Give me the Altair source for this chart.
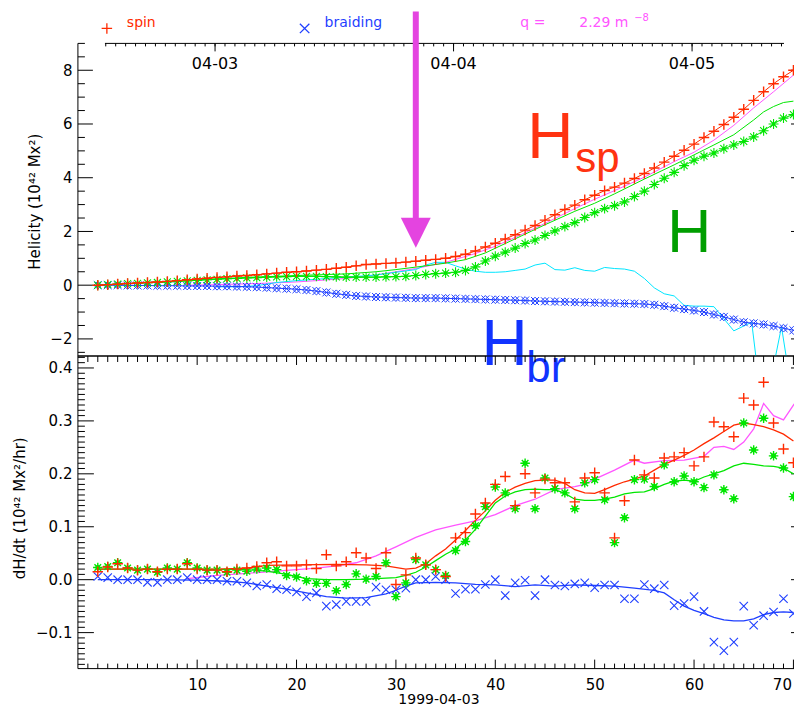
import altair as alt
import pandas as pd
import numpy as np

# ---------------- data ----------------
hours = list(range(71))

# top panel (helicity, 10^42 Mx^2)
top_spin = [0.0, 0.02, 0.04, 0.06, 0.08, 0.1, 0.12, 0.14, 0.17, 0.2,
            0.23, 0.26, 0.29, 0.31, 0.34, 0.36, 0.39, 0.42, 0.45, 0.48,
            0.5, 0.53, 0.56, 0.59, 0.63, 0.67, 0.72, 0.77, 0.79, 0.81,
            0.83, 0.86, 0.89, 0.93, 0.96, 1.0, 1.07, 1.15, 1.27, 1.42,
            1.56, 1.72, 1.88, 2.05, 2.22, 2.42, 2.62, 2.82, 2.98, 3.18,
            3.35, 3.52, 3.65, 3.8, 3.97, 4.16, 4.36, 4.58, 4.8, 5.02,
            5.25, 5.5, 5.73, 5.98, 6.25, 6.55, 6.88, 7.2, 7.5, 7.76, 8.0]
top_total = [0.0, 0.02, 0.04, 0.06, 0.07, 0.09, 0.1, 0.12, 0.14, 0.16,
             0.18, 0.2, 0.22, 0.24, 0.25, 0.27, 0.28, 0.3, 0.31, 0.32,
             0.33, 0.33, 0.33, 0.32, 0.31, 0.3, 0.3, 0.3, 0.3, 0.31,
             0.32, 0.33, 0.36, 0.4, 0.43, 0.45, 0.48, 0.55, 0.68, 0.9,
             1.08, 1.23, 1.38, 1.55, 1.68, 1.85, 2.02, 2.18, 2.33, 2.52,
             2.7, 2.85, 2.96, 3.1, 3.3, 3.5, 3.75, 3.98, 4.2, 4.45,
             4.65, 4.8, 4.92, 5.08, 5.22, 5.35, 5.52, 5.75, 6.0, 6.22, 6.35]
top_braid = [0.0, 0.0, 0.0, -0.01, -0.01, -0.01, -0.02, -0.02, -0.02, -0.03,
             -0.03, -0.03, -0.04, -0.04, -0.05, -0.06, -0.07, -0.09, -0.11, -0.13,
             -0.15, -0.18, -0.22, -0.27, -0.32, -0.36, -0.4, -0.42, -0.44, -0.45,
             -0.46, -0.47, -0.48, -0.48, -0.48, -0.49, -0.5, -0.51, -0.52, -0.53,
             -0.54, -0.55, -0.56, -0.57, -0.59, -0.6, -0.61, -0.62, -0.63, -0.64,
             -0.65, -0.66, -0.67, -0.68, -0.69, -0.7, -0.73, -0.78, -0.84, -0.89,
             -0.94, -1.0, -1.09, -1.18, -1.28, -1.38, -1.42, -1.46, -1.52, -1.6, -1.68]

top_gline_h = [0, 5, 10, 15, 20, 25, 28, 30, 33, 35, 37, 39, 41, 43, 45, 48, 50,
               52, 55, 58, 60, 62, 64, 66, 67, 68, 69, 70]
top_gline_v = [0.0, 0.1, 0.2, 0.29, 0.36, 0.42, 0.5, 0.58, 0.72, 0.82, 0.95, 1.2,
               1.55, 1.9, 2.25, 2.75, 3.05, 3.4, 3.95, 4.48, 4.85, 5.22, 5.6, 6.15,
               6.45, 6.65, 6.8, 6.85]
top_mag_h = [9, 12, 15, 18, 20, 22, 25, 28, 30, 32, 35, 38, 40, 42, 45, 48, 50,
             52, 55, 58, 60, 62, 64, 66, 68, 70]
top_mag_v = [0.0, 0.02, 0.05, 0.09, 0.12, 0.17, 0.25, 0.38, 0.5, 0.62, 0.85, 1.18,
             1.45, 1.78, 2.3, 2.85, 3.2, 3.52, 4.02, 4.6, 4.95, 5.4, 5.95, 6.6,
             7.2, 7.82]
top_cyan_h = [12, 14, 16, 18, 20, 22, 25, 28, 30, 32, 33, 34, 35, 36, 37, 38, 39,
              40, 41, 42, 43, 44, 45, 46, 47, 48, 49, 50, 51, 52, 53, 54, 55, 56,
              57, 58, 59, 60, 61, 62, 63, 64, 65, 65.8, 66.4, 67.9, 68.8, 69.5]
top_cyan_v = [-0.06, -0.06, -0.02, 0.1, 0.17, 0.22, 0.3, 0.38, 0.48, 0.58, 0.75,
              0.85, 0.85, 0.72, 0.6, 0.52, 0.48, 0.48, 0.5, 0.55, 0.6, 0.75, 0.82,
              0.58, 0.56, 0.65, 0.55, 0.52, 0.66, 0.62, 0.6, 0.52, 0.25, -0.1,
              -0.32, -0.4, -0.75, -0.78, -0.78, -0.8, -1.25, -1.7, -1.52, -1.38,
              -3.2, -3.2, -1.55, -3.2]

# bottom panel (dH/dt, 10^42 Mx^2/hr)
bot_spin = [0.015, 0.024, 0.03, 0.022, 0.018, 0.02, 0.015, 0.02, 0.02, 0.03,
            0.02, 0.018, 0.018, 0.015, 0.02, 0.022, 0.025, 0.032, 0.034, 0.026,
            0.026, 0.028, 0.021, 0.047, 0.026, 0.034, 0.051, 0.041, 0.021, 0.051,
            -0.009, 0.009, 0.041, 0.028, 0.019, 0.006, 0.079, 0.089, 0.124, 0.145,
            0.18, 0.195, 0.14, 0.2, 0.164, 0.19, 0.183, 0.183, 0.147, 0.192,
            0.202, 0.164, 0.079, 0.149, 0.226, 0.198, 0.192, 0.23, 0.232, 0.24,
            0.215, 0.232, 0.298, 0.289, 0.27, 0.343, 0.33, 0.373, 0.296, 0.247, 0.221]
bot_total = [0.023, 0.025, 0.032, 0.022, 0.018, 0.02, 0.014, 0.022, 0.02, 0.032,
             0.022, 0.018, 0.018, 0.014, 0.018, 0.016, 0.02, 0.022, 0.019, 0.008,
             0.005, -0.002, -0.007, -0.007, -0.021, -0.009, 0.011, 0.001, 0.006, 0.032,
             -0.032, -0.006, 0.038, 0.028, 0.019, 0.008, 0.055, 0.072, 0.102, 0.138,
             0.175, 0.164, 0.134, 0.22, 0.134, 0.192, 0.172, 0.164, 0.134, 0.183,
             0.189, 0.151, 0.07, 0.117, 0.189, 0.19, 0.176, 0.217, 0.185, 0.196,
             0.185, 0.174, 0.198, 0.17, 0.153, 0.296, 0.245, 0.305, 0.234, 0.211, 0.157]
bot_braid = [0.006, 0.004, 0.0, 0.0, 0.0, -0.005, -0.005, 0.0, 0.0, 0.004,
             0.0, 0.0, 0.0, -0.003, -0.003, -0.006, -0.012, -0.009, -0.017, -0.019,
             -0.023, -0.032, -0.025, -0.05, -0.047, -0.041, -0.041, -0.041, -0.014, -0.019,
             -0.019, -0.016, 0.0, 0.0, 0.006, 0.0, -0.026, -0.018, -0.018, -0.009,
             0.0, -0.03, -0.006, -0.001, -0.03, 0.0, -0.01, -0.012, -0.008, -0.006,
             -0.015, -0.01, -0.01, -0.036, -0.036, -0.009, -0.017, -0.01, -0.049, -0.045,
             -0.032, -0.06, -0.118, -0.134, -0.118, -0.05, -0.086, -0.068, -0.061, -0.036, -0.064]

sm_red_h = [0, 4, 8, 12, 15, 17, 20, 24, 27, 29, 31, 32, 33, 34, 35, 36, 37, 38,
            39, 40, 41, 42, 43, 44, 45, 46, 47, 48, 49, 50, 51, 52, 53, 54, 55,
            56, 57, 58, 59, 60, 61, 62, 63, 64, 65, 66, 67, 68, 69, 70]
sm_red_v = [0.02, 0.02, 0.02, 0.02, 0.022, 0.027, 0.028, 0.029, 0.028, 0.026,
            0.02, 0.022, 0.03, 0.045, 0.058, 0.075, 0.093, 0.112, 0.13, 0.15,
            0.165, 0.175, 0.182, 0.187, 0.188, 0.188, 0.182, 0.17, 0.164, 0.163,
            0.17, 0.178, 0.185, 0.19, 0.196, 0.207, 0.218, 0.226, 0.235, 0.245,
            0.257, 0.268, 0.28, 0.292, 0.296, 0.293, 0.289, 0.283, 0.275, 0.262]
sm_grn_h = [0, 5, 10, 15, 17, 19, 21, 23, 25, 27, 29, 30, 31, 32, 33, 34, 35, 36,
            37, 38, 39, 40, 41, 42, 43, 44, 45, 46, 47, 48, 49, 50, 51, 52, 53,
            54, 55, 56, 57, 58, 59, 60, 61, 62, 63, 64, 65, 66, 67, 68, 69, 70]
sm_grn_v = [0.02, 0.02, 0.02, 0.019, 0.016, 0.01, 0.002, 0.0, 0.0, 0.001, 0.003,
            0.004, 0.008, 0.014, 0.024, 0.036, 0.048, 0.058, 0.075, 0.095, 0.12,
            0.145, 0.158, 0.166, 0.17, 0.171, 0.17, 0.17, 0.163, 0.152, 0.15, 0.15,
            0.152, 0.156, 0.162, 0.165, 0.166, 0.172, 0.18, 0.186, 0.188, 0.186,
            0.194, 0.2, 0.206, 0.215, 0.22, 0.218, 0.215, 0.214, 0.211, 0.2]
sm_mag_h = [9, 12, 15, 18, 20, 22, 24, 26, 28, 30, 32, 34, 36, 38, 40, 42, 44,
            46, 48, 49, 50, 52, 54, 55, 57, 59, 61, 62, 63, 64, 65, 66, 67, 68,
            69, 70, 70.6]
sm_mag_v = [0.002, 0.008, 0.012, 0.016, 0.019, 0.022, 0.026, 0.032, 0.045, 0.062,
            0.08, 0.094, 0.103, 0.111, 0.123, 0.14, 0.152, 0.17, 0.176, 0.18, 0.19,
            0.207, 0.226, 0.22, 0.225, 0.226, 0.233, 0.25, 0.252, 0.246, 0.26,
            0.285, 0.333, 0.31, 0.302, 0.33, 0.345]
sm_blu_h = [0, 5, 10, 13, 15, 17, 19, 21, 23, 25, 27, 29, 30, 31, 32, 34, 36, 38,
            40, 42, 44, 46, 48, 50, 52, 54, 56, 57, 58, 59, 60, 61, 62, 63, 64,
            65, 66, 67, 68, 69, 70]
sm_blu_v = [0.0, 0.0, -0.001, -0.003, -0.006, -0.012, -0.018, -0.025, -0.032,
            -0.035, -0.034, -0.027, -0.02, -0.012, -0.006, -0.005, -0.006, -0.009,
            -0.01, -0.013, -0.01, -0.012, -0.01, -0.011, -0.012, -0.016, -0.02,
            -0.025, -0.038, -0.05, -0.058, -0.064, -0.071, -0.076, -0.078, -0.078,
            -0.074, -0.066, -0.062, -0.061, -0.062]

date_ticks = [11.8, 35.8, 59.8]
date_labels = ["04-03", "04-04", "04-05"]
x_major = [10, 20, 30, 40, 50, 60, 70]
top_y_major = [-2, 0, 2, 4, 6, 8]
bot_y_major = [-0.1, 0.0, 0.1, 0.2, 0.3, 0.4]
arrow_hour = [32]

# ---------------- layout / style ----------------
W, HT, HB = 722, 313, 313
FONT = "DejaVu Sans"
HFONT = "Liberation Sans"
RED, GREEN, BLUE = "#ff2a00", "#00e600", "#1f3fff"
MAG, CYAN, ARROW = "#ff55ff", "#00e5ff", "#e444e0"

xs = alt.Scale(domain=[-2.0, 70.56], nice=False, zero=False)
yst = alt.Scale(domain=[-2.636, 9.0], nice=False, zero=False)
ysb = alt.Scale(domain=[-0.168, 0.4226], nice=False, zero=False)

PLUS = "M-1,0L1,0M0,-1L0,1"
XSYM = "M-1,-1L1,1M-1,1L1,-1"
STAR = "M-1,0L1,0M0,-1L0,1M-0.7,-0.7L0.7,0.7M-0.7,0.7L0.7,-0.7"
TRI = "M-1,-1L1,-1L0,1Z"
ONE = pd.DataFrame({"k": [0]})

top_x_minor = [v for v in np.arange(-1, 71, 1.0) if v not in x_major]
top_y_minor = [v for v in np.arange(-2.5, 9.01, 0.5) if v not in top_y_major]
bot_y_minor = [round(v, 3) for v in np.arange(-0.16, 0.4201, 0.01)]
bot_y_minor = [v for v in bot_y_minor if round(v * 10, 3) != round(v * 10)]
date_minor = list(np.arange(0.8, 69.0, 1.0))

top_axis = alt.Axis(values=top_y_major, format="d", title="Helicity (10⁴² Mx²)",
                    ticks=False, domain=False, grid=False, labelPadding=6,
                    titleX=-38.5, titleY=158, titleAngle=270,
                    titleBaseline="alphabetic", titleAlign="center")
bot_axis = alt.Axis(values=bot_y_major, format=".1f", title="dH/dt (10⁴² Mx²/hr)",
                    ticks=False, domain=False, grid=False, labelPadding=6,
                    titleX=-53, titleY=152, titleAngle=270,
                    titleBaseline="alphabetic", titleAlign="center")
x_axis = alt.Axis(values=x_major, format="d", title="1999-04-03", ticks=False,
                  domain=False, grid=False, labelPadding=9, titleY=24,
                  titleBaseline="top", titleFontSize=14,
                  labelFlush=7, labelFlushOffset=-2)


class Panel:
    def __init__(self, ys, yaxis, xaxis):
        self.ys, self.ya, self.xa = ys, yaxis, xaxis

    def X(self, field="h:Q"):
        return alt.X(field, scale=xs, axis=self.xa)

    def Y(self):
        return alt.Y("v:Q", scale=self.ys, axis=self.ya)

    def line(self, h, v, color, sw=1.0, clip=False):
        return alt.Chart(pd.DataFrame({"h": h, "v": v})).mark_line(
            color=color, strokeWidth=sw, clip=clip).encode(x=self.X(), y=self.Y())

    def pts(self, h, v, shape, color, size, sw=1.2, filled=False):
        return alt.Chart(pd.DataFrame({"h": h, "v": v})).mark_point(
            shape=shape, color=color, size=size, strokeWidth=sw, filled=filled,
            opacity=1).encode(x=self.X(), y=self.Y())

    def yticks(self, vals, x1, x2):
        return alt.Chart(pd.DataFrame({"v": vals})).mark_rule(color="black").encode(
            y=self.Y(), x=alt.value(x1), x2=alt.value(x2))

    def xticks(self, vals, y1, y2):
        return alt.Chart(pd.DataFrame({"h": vals})).mark_rule(color="black").encode(
            x=self.X(), y=alt.value(y1), y2=alt.value(y2))


def px_rule(x1, y1, x2=None, y2=None, color="black", sw=1.0):
    enc = dict(x=alt.value(x1), y=alt.value(y1))
    if x2 is not None:
        enc["x2"] = alt.value(x2)
    if y2 is not None:
        enc["y2"] = alt.value(y2)
    return alt.Chart(ONE).mark_rule(color=color, strokeWidth=sw).encode(**enc)


def ptext(txt, x, y, size, color, font=FONT, align="left", baseline="alphabetic"):
    return alt.Chart(ONE).mark_text(text=txt, align=align, baseline=baseline,
                                    fontSize=size, font=font, color=color).encode(
        x=alt.value(x), y=alt.value(y))


def psym(shape, x, y, size, color, sw=1.3):
    return alt.Chart(ONE).mark_point(shape=shape, size=size, color=color,
                                     strokeWidth=sw, filled=False, opacity=1).encode(
        x=alt.value(x), y=alt.value(y))


# ---------------- top panel ----------------
P = Panel(yst, top_axis, None)
date_df = pd.DataFrame({"h": date_ticks, "lab": date_labels})
top_layers = [
    P.yticks(top_y_major, 0, 15),
    P.yticks(top_y_minor, 0, 7),
    P.yticks(top_y_major, W, W - 8),
    px_rule(0, 0, y2=HT),
    px_rule(W, 0, y2=HT),
    px_rule(0, HT, x2=W),
    # date axis along the top
    alt.Chart(pd.DataFrame({"h": [0.72], "h2": [69.05]})).mark_rule(color="black").encode(
        x=P.X(), x2="h2:Q", y=alt.value(0)),
    P.xticks(date_minor, 0, 3),
    P.xticks(date_ticks, 0, 8),
    alt.Chart(date_df).mark_text(font=FONT, fontSize=16, color="black",
                                 baseline="middle").encode(
        x=P.X(), y=alt.value(21), text="lab:N"),
    # curves
    P.line(top_mag_h, top_mag_v, MAG),
    P.line(top_cyan_h, top_cyan_v, CYAN, clip=True),
    P.line(top_gline_h, top_gline_v, GREEN),
    P.line(hours, top_braid, BLUE),
    P.pts(hours, top_braid, "diamond", BLUE, 60, sw=1.0),
    P.pts(hours, top_braid, XSYM, BLUE, 64, sw=1.0),
    P.line(hours, top_total, GREEN),
    P.pts(hours, top_total, "circle", GREEN, 12, filled=True),
    P.pts(hours, top_total, STAR, GREEN, 100, sw=1.1),
    P.line(hours, top_spin, RED),
    P.pts(hours, top_spin, PLUS, RED, 110, sw=1.4),
    # labels
    ptext("H", 450, 115, 64, "#ff3311", font=HFONT),
    ptext("sp", 498, 129, 42, "#ff3311", font=HFONT),
    ptext("H", 590, 209, 61, "#009e00", font=HFONT),
    ptext("H", 404, 322, 64, "#1133ff", font=HFONT),
    ptext("br", 449, 339, 44, "#1133ff", font=HFONT),
    # legend
    psym(PLUS, 29, -15, 110, RED),
    ptext("spin", 49, -16, 14, RED),
    psym(XSYM, 227, -15, 90, BLUE),
    ptext("braiding", 247, -16, 14, BLUE),
    ptext("q =", 443, -16, 14, MAG),
    ptext("2.29 m", 502, -16, 14, MAG),
    ptext("−8", 557, -22, 10, MAG),
    # arrow
    alt.Chart(pd.DataFrame({"h": arrow_hour})).mark_rule(color=ARROW, strokeWidth=6).encode(
        x=P.X(), y=alt.value(-32), y2=alt.value(176)),
    alt.Chart(pd.DataFrame({"h": arrow_hour})).mark_point(
        shape=TRI, size=900, filled=True, color=ARROW, opacity=1).encode(
        x=P.X(), y=alt.value(189.5)),
]
top = alt.layer(*top_layers).properties(width=W, height=HT)

# ---------------- bottom panel ----------------
B = Panel(ysb, bot_axis, x_axis)
bot_layers = [
    B.yticks(bot_y_major, 0, 16),
    B.yticks(bot_y_minor, 0, 7),
    B.yticks(bot_y_major, W, W - 8),
    B.xticks(x_major, HB, HB - 9),
    B.xticks(top_x_minor, HB, HB - 5),
    B.xticks(x_major, 0, 9),
    B.xticks(top_x_minor, 0, 6),
    px_rule(0, 0, y2=HB),
    px_rule(W, 0, y2=HB),
    px_rule(0, 0, x2=W),
    px_rule(0, HB, x2=W),
    B.line(sm_mag_h, sm_mag_v, MAG, sw=1.3),
    B.line(sm_blu_h, sm_blu_v, BLUE, sw=1.3),
    B.line(sm_grn_h, sm_grn_v, GREEN, sw=1.3),
    B.line(sm_red_h, sm_red_v, RED, sw=1.3),
    B.pts(hours, bot_braid, XSYM, BLUE, 70, sw=1.1),
    B.pts(hours, bot_total, "circle", GREEN, 25, filled=True),
    B.pts(hours, bot_total, STAR, GREEN, 90, sw=1.4),
    B.pts(hours, bot_spin, PLUS, RED, 110, sw=1.4),
]
bot = alt.layer(*bot_layers).properties(width=W, height=HB)

# the page body is 786 px wide: the right edge of the frame is cut, as in the original
chart = alt.vconcat(top, bot, spacing=0, bounds="flush").properties(
    padding={"left": 5, "top": 0, "right": -8, "bottom": 0},
    background="white",
).configure_view(stroke=None).configure_axis(
    labelFont=FONT, titleFont=FONT, labelFontSize=15, titleFontSize=15,
    labelColor="black", titleColor="black", titleFontWeight="normal",
)

chart.save("out.html", embed_options={"renderer": "svg", "actions": False})
